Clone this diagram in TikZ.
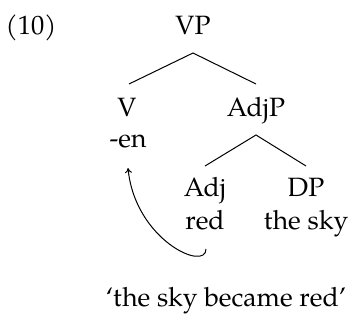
\documentclass[tikz,border=0pt]{standalone}
\usepackage{fontspec}
\setmainfont{TeX Gyre Pagella}
\usetikzlibrary{arrows.meta}
\begin{document}
\begin{tikzpicture}[x=1pt,y=-1pt,
  lbl/.style={inner sep=0pt,anchor=base,font=\fontsize{26.5}{31}\selectfont},
  branch/.style={line width=1pt},
  move/.style={line width=1pt,-{To[length=5pt,width=7pt]}}]
\useasboundingbox (0,0) rectangle (351,320);
% example number and tree labels
\node[lbl] (num) at (31,35) {(10)};
\node[lbl] (vp) at (193,35) {VP};
\node[lbl] (v) at (127,117) {V};
\node[lbl] (en) at (128,148) {-en};
\node[lbl] (adjp) at (256,117) {AdjP};
\node[lbl] (adj) at (205,197) {Adj};
\node[lbl] (red) at (205,230) {red};
\node[lbl] (dp) at (306,197) {DP};
\node[lbl] (sky) at (306,230) {the sky};
\node[lbl] (gloss) at (226,307) {`the sky became red'};
% branch end points
\coordinate (vpb) at (193,53);
\coordinate (vt) at (129,84);
\coordinate (adjpt) at (256,84);
\coordinate (adjpb) at (256,135);
\coordinate (adjt) at (205,166);
\coordinate (dpt) at (306,166);
\coordinate (mvs) at (206,249);
\coordinate (mve) at (128,168);
\draw[branch] (vt) -- (vpb) -- (adjpt);
\draw[branch] (adjt) -- (adjpb) -- (dpt);
% head movement of the adjective to the verbal suffix
\draw[move] (mvs) .. controls (206,272) and (135,240) .. (mve);
\end{tikzpicture}
\end{document}
